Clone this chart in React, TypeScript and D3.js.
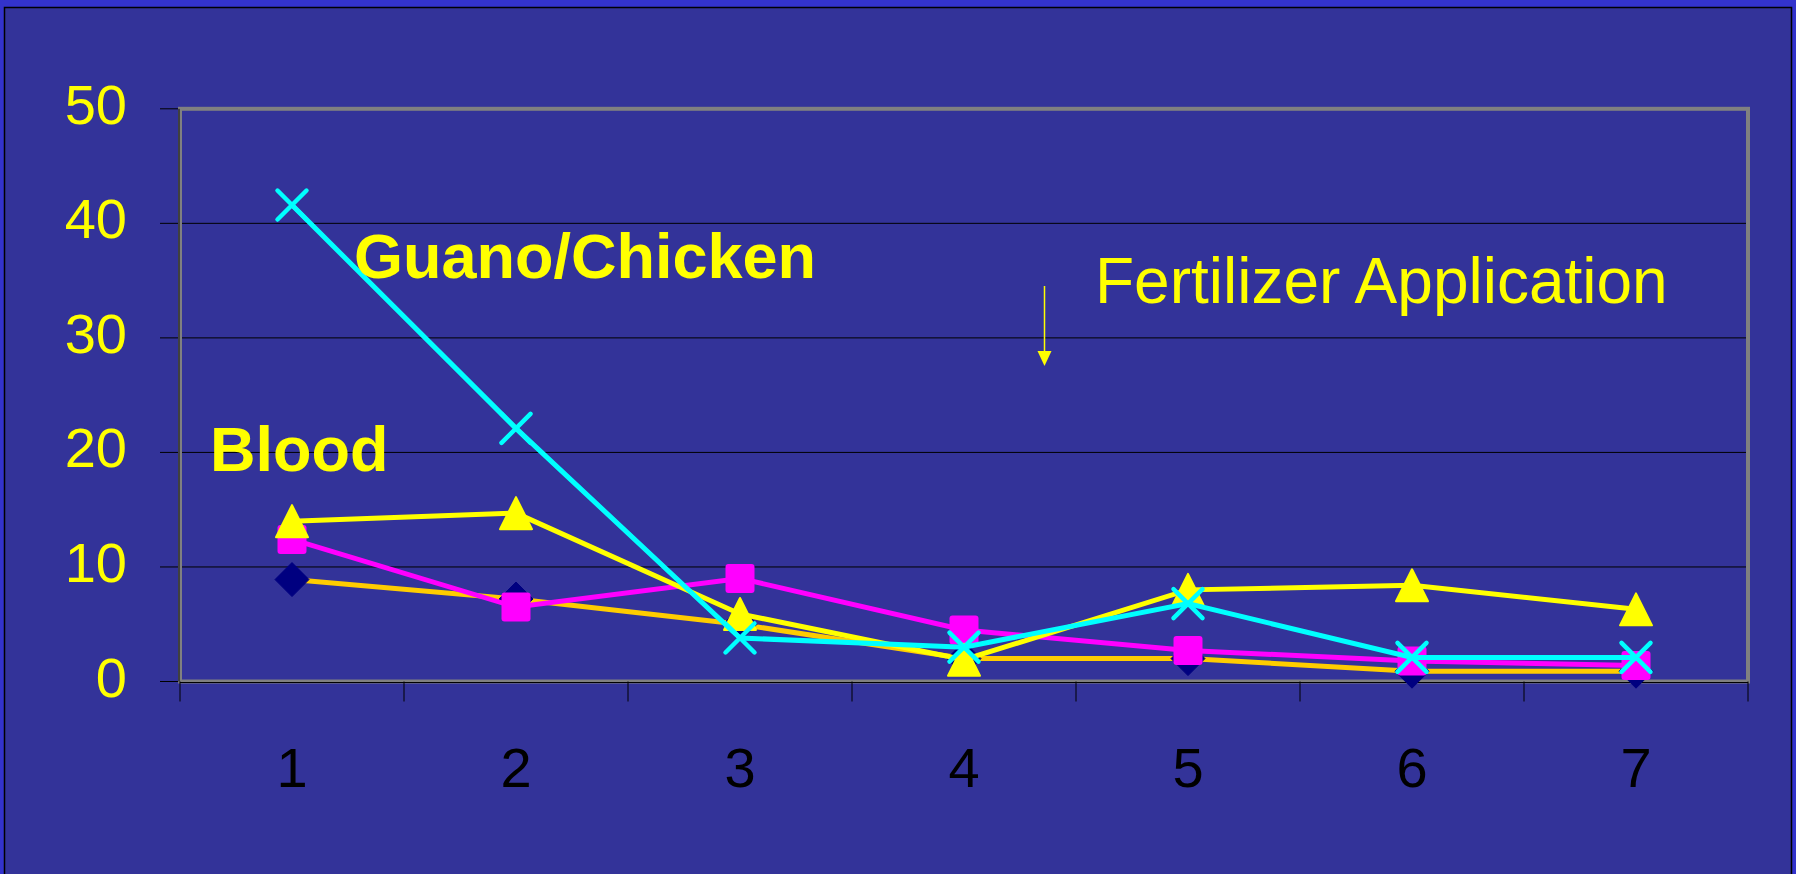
import React from "react";
import * as d3 from "d3";

const categories = ["1", "2", "3", "4", "5", "6", "7"];
const yTicks = [0, 10, 20, 30, 40, 50];

// four series
const diamondValues = [8.9, 7.2, 5.0, 2.0, 2.0, 0.9, 0.9];
const squareValues = [12.4, 6.5, 9.0, 4.5, 2.7, 1.8, 1.4];
const triangleValues = [14.0, 14.7, 5.9, 1.9, 8.0, 8.4, 6.3];
const crossValues = [41.6, 22.1, 3.8, 3.0, 6.8, 2.1, 2.1];

const W = 1796;
const H = 874;
const plot = { left: 180, right: 1748, top: 108.8, bottom: 681.5 };
const font = "'Liberation Sans', Arial, sans-serif";

const x = d3.scaleBand().domain(categories).range([plot.left, plot.right]);
const y = d3.scaleLinear().domain([0, 50]).range([plot.bottom, plot.top]);
const cx = (c: string) => (x(c) as number) + x.bandwidth() / 2;

const lineGen = d3
  .line<number>()
  .x((_, i) => cx(categories[i]))
  .y((d) => y(d));

function diamond(px: number, py: number) {
  const r = 17;
  return `M${px},${py - r}L${px + r},${py}L${px},${py + r}L${px - r},${py}Z`;
}
function triangle(px: number, py: number) {
  const r = 16;
  return `M${px},${py - r}L${px + r},${py + r}L${px - r},${py + r}Z`;
}
function cross(px: number, py: number) {
  const r = 14.5;
  return `M${px - r},${py - r}L${px + r},${py + r}M${px + r},${py - r}L${px - r},${py + r}`;
}

export default function App() {
  return (
    <svg
      width={W}
      height={H}
      style={{ position: "absolute", left: 0, top: 0, display: "block" }}
    >
      <rect x={0} y={0} width={W} height={H} fill="#3333cc" />
      <rect x={4.5} y={7.5} width={1787} height={H} fill="#333399" stroke="#000" strokeWidth={1.5} />

      {/* gridlines + y ticks */}
      {yTicks.map((t) => (
        <g key={t}>
          {t > 0 && t < 50 && (
            <line x1={plot.left} x2={plot.right - 2} y1={y(t)} y2={y(t)} stroke="#000" strokeWidth={1} />
          )}
          <line x1={160} x2={plot.left} y1={y(t)} y2={y(t)} stroke="#000" strokeWidth={1} />
          <text
            x={127}
            y={y(t) + 15}
            textAnchor="end"
            fill="#ffff00"
            fontSize={56}
            fontFamily={font}
          >
            {t}
          </text>
        </g>
      ))}

      {/* plot border */}
      <rect
        x={plot.left}
        y={plot.top}
        width={plot.right - plot.left}
        height={plot.bottom - plot.top}
        fill="none"
        stroke="#808080"
        strokeWidth={4}
      />
      <line x1={plot.left - 1} x2={plot.left - 1} y1={plot.top} y2={plot.bottom} stroke="#000" strokeWidth={1} />
      <line x1={plot.left} x2={plot.right} y1={plot.bottom + 1} y2={plot.bottom + 1} stroke="#000" strokeWidth={1} />

      {/* x ticks */}
      {[...categories.map((c) => x(c) as number), plot.right].map((tx, i) => (
        <line key={i} x1={tx} x2={tx} y1={plot.bottom} y2={plot.bottom + 20} stroke="#000" strokeWidth={1} />
      ))}
      {categories.map((c) => (
        <text key={c} x={cx(c)} y={787} textAnchor="middle" fill="#000" fontSize={56} fontFamily={font}>
          {c}
        </text>
      ))}

      {/* series 1: navy diamonds, gold line */}
      <path d={lineGen(diamondValues) || ""} fill="none" stroke="#ffcc00" strokeWidth={5} />
      {diamondValues.map((v, i) => (
        <path key={i} d={diamond(cx(categories[i]), y(v))} fill="#000080" stroke="#000080" strokeWidth={1} strokeLinejoin="round" />
      ))}

      {/* series 2: magenta squares */}
      <path d={lineGen(squareValues) || ""} fill="none" stroke="#ff00ff" strokeWidth={5} />
      {squareValues.map((v, i) => (
        <rect key={i} x={cx(categories[i]) - 14.5} y={y(v) - 14.5} width={29} height={29} rx={3} fill="#ff00ff" />
      ))}

      {/* series 3: yellow triangles */}
      <path d={lineGen(triangleValues) || ""} fill="none" stroke="#ffff00" strokeWidth={5} />
      {triangleValues.map((v, i) => (
        <path key={i} d={triangle(cx(categories[i]), y(v))} fill="#ffff00" stroke="#ffff00" strokeWidth={2} strokeLinejoin="round" />
      ))}

      {/* series 4: cyan crosses */}
      <path d={lineGen(crossValues) || ""} fill="none" stroke="#00ffff" strokeWidth={5} />
      {crossValues.map((v, i) => (
        <path key={i} d={cross(cx(categories[i]), y(v))} fill="none" stroke="#00ffff" strokeWidth={4.5} strokeLinecap="round" />
      ))}

      {/* annotations */}
      <text x={354} y={278} fill="#ffff00" fontSize={63} fontWeight="bold" fontFamily={font}>
        Guano/Chicken
      </text>
      <text x={210} y={471} fill="#ffff00" fontSize={63} fontWeight="bold" fontFamily={font}>
        Blood
      </text>
      <text x={1095} y={303} fill="#ffff00" fontSize={64} fontFamily={font}>
        Fertilizer Application
      </text>
      <line x1={1044.5} x2={1044.5} y1={286} y2={352} stroke="#ffff00" strokeWidth={1.5} />
      <path d="M1037.5,351L1051.5,351L1044.5,366Z" fill="#ffff00" />
    </svg>
  );
}
